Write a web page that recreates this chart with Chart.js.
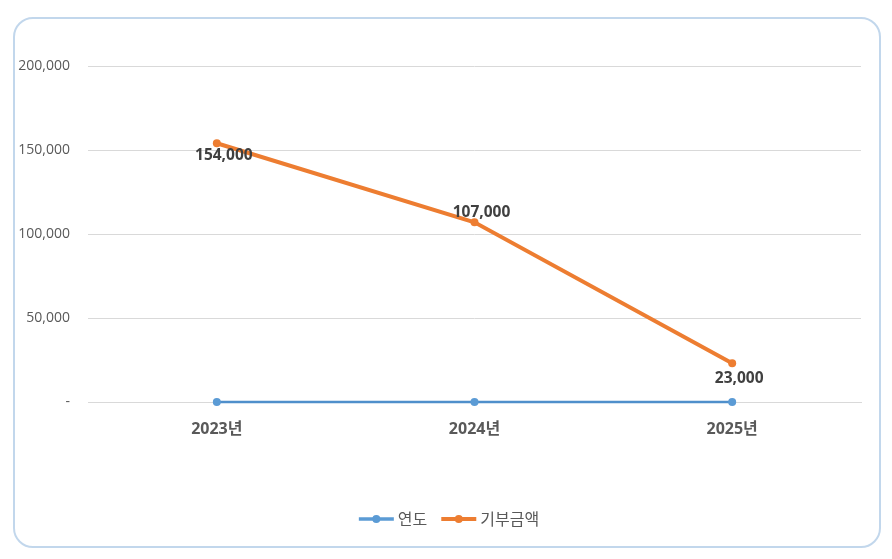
<!DOCTYPE html>
<html lang="ko">
<head>
<meta charset="utf-8">
<script src="https://cdn.jsdelivr.net/npm/chart.js@4/dist/chart.umd.min.js"></script>
<style>
    html, body { margin: 0; padding: 0; background: #ffffff; }
    #wrap { position: relative; width: 892px; height: 559px; }
    #frame {
        position: absolute; left: 13px; top: 17px; width: 864px; height: 527px;
        border: 2.5px solid #c2d7ec; border-radius: 20px; pointer-events: none;
    }
    canvas { position: absolute; left: 0; top: 0; }
</style>
</head>
<body>
<div id="wrap">
    <canvas id="chart" width="892" height="559"></canvas>
    <div id="frame"></div>
</div>
<script>
const categories = ['2023년', '2024년', '2025년'];
const seriesNames = ['연도', '기부금액'];
const yearValues = [0, 0, 0];
const donationValues = [154000, 107000, 23000];
const yTicks = [0, 50000, 100000, 150000, 200000];

const FONT = '"Open Sans", "Noto Sans CJK KR", sans-serif';
const COLORS = ['#5b9bd5', '#ed7d31'];

const fmt = v => v === 0 ? '-' : v.toLocaleString('en-US');

// data labels for the donation series: below / above / below like the original
const labelOffsets = [12, -10, 15];
const dataLabels = {
    id: 'dataLabels',
    afterDatasetsDraw(chart) {
        const ctx = chart.ctx;
        const meta = chart.getDatasetMeta(1);
        ctx.save();
        ctx.font = 'bold 15.5px ' + FONT;
        ctx.fillStyle = '#404040';
        ctx.textAlign = 'center';
        ctx.textBaseline = 'middle';
        meta.data.forEach((pt, i) => {
            ctx.fillText(fmt(donationValues[i]), pt.x + 7, pt.y + labelOffsets[i]);
        });
        ctx.restore();
    }
};

// excel-like legend: line with a dot, then the name
const bottomLegend = {
    id: 'bottomLegend',
    afterDraw(chart) {
        const ctx = chart.ctx;
        ctx.save();
        ctx.font = '16px ' + FONT;
        const lineW = 35, gap = 4, between = 14;
        const widths = seriesNames.map(n => ctx.measureText(n).width);
        let total = widths.reduce((a, b) => a + b, 0) + seriesNames.length * (lineW + gap) + between * (seriesNames.length - 1);
        let x = 449 - total / 2;
        const y = 519;
        seriesNames.forEach((name, i) => {
            ctx.strokeStyle = COLORS[i];
            ctx.lineWidth = i === 1 ? 4 : 3.5;
            ctx.beginPath();
            ctx.moveTo(x, y);
            ctx.lineTo(x + lineW, y);
            ctx.stroke();
            ctx.fillStyle = COLORS[i];
            ctx.beginPath();
            ctx.arc(x + lineW / 2, y, 4, 0, Math.PI * 2);
            ctx.fill();
            ctx.fillStyle = '#595959';
            ctx.textBaseline = 'middle';
            ctx.fillText(name, x + lineW + gap, y + 1);
            x += lineW + gap + widths[i] + between;
        });
        ctx.restore();
    }
};

new Chart(document.getElementById('chart'), {
    type: 'line',
    data: {
        labels: categories,
        datasets: [
            {
                label: seriesNames[0], data: yearValues, clip: false,
                borderColor: '#4f8fcb', backgroundColor: COLORS[0],
                borderWidth: 2.5, pointRadius: 4, pointBorderWidth: 0, pointHoverRadius: 4, tension: 0
            },
            {
                label: seriesNames[1], data: donationValues, clip: false,
                borderColor: COLORS[1], backgroundColor: COLORS[1],
                borderWidth: 4, pointRadius: 4, pointBorderWidth: 0, pointHoverRadius: 4, tension: 0
            }
        ]
    },
    options: {
        responsive: false, animation: false,
        layout: { padding: { top: 66, right: 31, bottom: 117, left: 0 } },
        plugins: { legend: { display: false }, tooltip: { enabled: false } },
        scales: {
            x: {
                offset: true,
                grid: { display: false, drawTicks: false },
                border: { display: true, color: '#d9d9d9', width: 1 },
                ticks: { color: '#595959', font: { family: FONT, size: 16, weight: 'bold' }, padding: 18 },
                afterFit: s => { s.height = 40; }
            },
            y: {
                min: 0, max: 200000,
                afterBuildTicks: s => { s.ticks = yTicks.map(v => ({ value: v })); },
                grid: { color: '#d9d9d9', drawTicks: false },
                border: { display: false },
                ticks: { color: '#595959', font: { family: FONT, size: 14 }, padding: 18, callback: v => fmt(v) },
                afterFit: s => { s.width = 88; }
            }
        }
    },
    plugins: [dataLabels, bottomLegend]
});
</script>
</body>
</html>
